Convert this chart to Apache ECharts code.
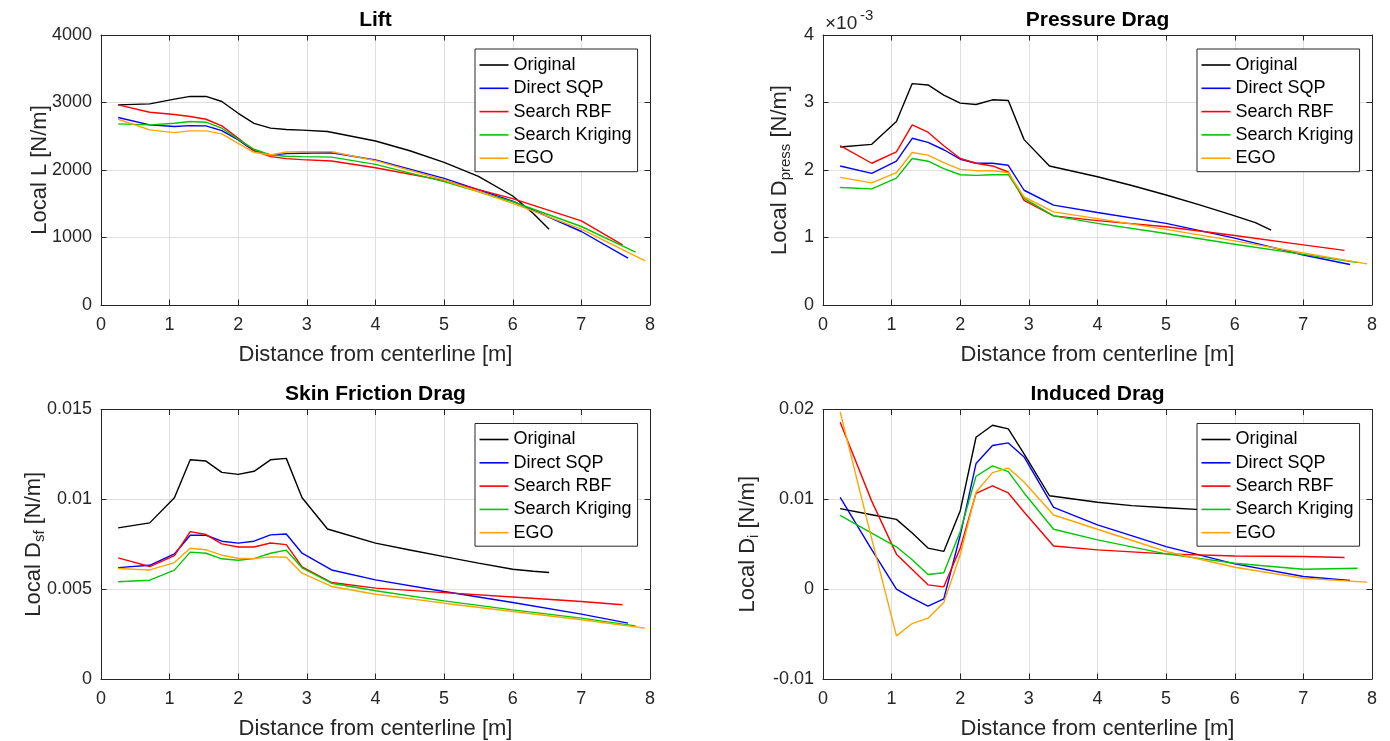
<!DOCTYPE html>
<html><head><meta charset="utf-8">
<script src="https://cdn.jsdelivr.net/npm/echarts@6/dist/echarts.min.js"></script>
<style>html,body{margin:0;padding:0;background:#fff}#c{width:1390px;height:741px}</style>
</head><body><div id="c"></div>
<script>
// ---------- data ----------
const seriesNames = ['Original', 'Direct SQP', 'Search RBF', 'Search Kriging', 'EGO'];
const seriesColors = ['#000000', '#0000ff', '#ff0000', '#00c800', '#ffa500'];
const panelTitles = ['Lift', 'Pressure Drag', 'Skin Friction Drag', 'Induced Drag'];
const xTicks = [0, 1, 2, 3, 4, 5, 6, 7, 8];

const xInner = [0.25, 0.71, 1.07, 1.30, 1.53, 1.76, 2.00, 2.23, 2.47, 2.70, 2.93];
const xOriginal = xInner.concat([3.30, 4.0, 4.5, 5.0, 5.5, 6.0, 6.3, 6.53]);
const xSQP = xInner.concat([3.36, 4.0, 5.0, 6.0, 7.0, 7.68]);
const xRBF = xInner.concat([3.36, 4.0, 5.0, 6.0, 7.0, 7.60]);
const xKriging = xInner.concat([3.36, 4.0, 5.0, 6.0, 7.0, 7.79]);
const xEGO = xInner.concat([3.36, 4.0, 5.0, 6.0, 7.0, 7.93]);

// Lift [N/m]
const liftOriginal = [2965, 2980, 3050, 3090, 3090, 3015, 2840, 2690, 2620, 2600, 2590, 2570, 2430, 2285, 2113, 1905, 1615, 1355, 1123];
const liftSQP = [2777, 2668, 2644, 2658, 2653, 2584, 2445, 2282, 2223, 2243, 2248, 2256, 2148, 1877, 1540, 1089, 695];
const liftRBF = [2965, 2856, 2822, 2792, 2752, 2653, 2470, 2287, 2198, 2168, 2153, 2133, 2034, 1842, 1575, 1246, 892];
const liftKriging = [2683, 2668, 2693, 2718, 2708, 2619, 2455, 2307, 2223, 2203, 2198, 2190, 2084, 1828, 1530, 1163, 783];
const liftEGO = [2752, 2594, 2554, 2579, 2579, 2535, 2396, 2262, 2223, 2267, 2272, 2271, 2138, 1852, 1505, 1123, 655];

// Pressure drag [N/m]
const pressOriginal = [0.00234, 0.00238, 0.00272, 0.00328, 0.00326, 0.00311, 0.00299, 0.00297, 0.00304, 0.00303, 0.00245, 0.00206, 0.00190, 0.00177, 0.00163, 0.00148, 0.00132, 0.00122, 0.00111];
const pressSQP = [0.00206, 0.00195, 0.00213, 0.00247, 0.00241, 0.00230, 0.00216, 0.00210, 0.00210, 0.00207, 0.00170, 0.00148, 0.00137, 0.00121, 0.00099, 0.00074, 0.00060];
const pressRBF = [0.00236, 0.00210, 0.00227, 0.00267, 0.00256, 0.00236, 0.00217, 0.00210, 0.00206, 0.00197, 0.00155, 0.00132, 0.00125, 0.00116, 0.00103, 0.00089, 0.00081];
const pressKriging = [0.00174, 0.00172, 0.00188, 0.00217, 0.00213, 0.00202, 0.00193, 0.00192, 0.00193, 0.00193, 0.00158, 0.00132, 0.00121, 0.00106, 0.00090, 0.00075, 0.00063];
const pressEGO = [0.00189, 0.00181, 0.00196, 0.00226, 0.00222, 0.00211, 0.00201, 0.00199, 0.00199, 0.00196, 0.00160, 0.00138, 0.00128, 0.00112, 0.00095, 0.00077, 0.00061];

// Skin friction drag [N/m]
const sfOriginal = [0.00841, 0.00869, 0.01009, 0.01220, 0.01213, 0.01150, 0.01139, 0.01156, 0.01220, 0.01228, 0.01009, 0.00835, 0.00756, 0.00718, 0.00681, 0.00645, 0.00611, 0.00600, 0.00593];
const sfSQP = [0.00620, 0.00633, 0.00696, 0.00800, 0.00800, 0.00767, 0.00756, 0.00767, 0.00802, 0.00807, 0.00700, 0.00607, 0.00552, 0.00487, 0.00426, 0.00361, 0.00311];
const sfRBF = [0.00674, 0.00626, 0.00687, 0.00820, 0.00804, 0.00752, 0.00735, 0.00735, 0.00757, 0.00748, 0.00624, 0.00537, 0.00506, 0.00481, 0.00456, 0.00431, 0.00413];
const sfKriging = [0.00541, 0.00550, 0.00606, 0.00706, 0.00700, 0.00669, 0.00661, 0.00670, 0.00700, 0.00717, 0.00619, 0.00533, 0.00491, 0.00435, 0.00385, 0.00339, 0.00296];
const sfEGO = [0.00615, 0.00607, 0.00648, 0.00728, 0.00719, 0.00689, 0.00672, 0.00670, 0.00680, 0.00678, 0.00589, 0.00515, 0.00472, 0.00422, 0.00376, 0.00330, 0.00283];

// Induced drag [N/m]
const diOriginal = [0.00896, 0.00829, 0.00777, 0.00625, 0.00457, 0.00420, 0.00874, 0.01691, 0.01825, 0.01784, 0.01506, 0.01040, 0.00967, 0.00930, 0.00907, 0.00885, 0.00870, 0.00860, 0.00850];
const diSQP = [0.01022, 0.00440, 0.00000, -0.00100, -0.00190, -0.00108, 0.00600, 0.01398, 0.01599, 0.01628, 0.01472, 0.00911, 0.00715, 0.00474, 0.00281, 0.00141, 0.00096];
const diRBF = [0.01859, 0.00980, 0.00390, 0.00219, 0.00048, 0.00026, 0.00457, 0.01067, 0.01149, 0.01071, 0.00859, 0.00481, 0.00437, 0.00393, 0.00370, 0.00363, 0.00352];
const diKriging = [0.00822, 0.00625, 0.00472, 0.00327, 0.00164, 0.00182, 0.00643, 0.01257, 0.01372, 0.01309, 0.01071, 0.00667, 0.00548, 0.00393, 0.00289, 0.00222, 0.00233];
const diEGO = [0.01974, 0.00560, -0.00520, -0.00383, -0.00323, -0.00149, 0.00383, 0.01082, 0.01297, 0.01349, 0.01193, 0.00826, 0.00667, 0.00419, 0.00244, 0.00122, 0.00078];

// y axis ranges / ticks
const yLift = { min: 0, max: 4000, interval: 1000 };
const yPress = { min: 0, max: 0.004, interval: 0.001 };
const ySf = { min: 0, max: 0.015, interval: 0.005 };
const yDi = { min: -0.01, max: 0.02, interval: 0.01 };

// ---------- chart ----------
const FONT = '"Liberation Sans", Arial, Helvetica, sans-serif';
const TXT = '#262626';
const xs = [xOriginal, xSQP, xRBF, xKriging, xEGO];
const panels = [
  { ys: [liftOriginal, liftSQP, liftRBF, liftKriging, liftEGO], y: yLift,
    name: '{n|Local L [N/m]}', fmt: v => String(Math.round(v)), gap: 48 },
  { ys: [pressOriginal, pressSQP, pressRBF, pressKriging, pressEGO], y: yPress,
    name: '{n|Local D}{s|press}{n| [N/m]}', fmt: v => String(Math.round(v * 1000)), gap: 30 },
  { ys: [sfOriginal, sfSQP, sfRBF, sfKriging, sfEGO], y: ySf,
    name: '{n|Local D}{s|sf}{n| [N/m]}', fmt: v => String(+v.toFixed(6)), gap: 54 },
  { ys: [diOriginal, diSQP, diRBF, diKriging, diEGO], y: yDi,
    name: '{n|Local D}{s|i}{n| [N/m]}', fmt: v => String(+v.toFixed(6)), gap: 62 }
];
const gridPos = [
  { left: 101, top: 35, width: 549, height: 270 },
  { left: 823, top: 35, width: 549, height: 270 },
  { left: 101, top: 409.5, width: 549, height: 270 },
  { left: 823, top: 409.5, width: 549, height: 270 }
];

const grid = [], xAxis = [], yAxis = [], series = [], legend = [], graphic = [];
const axisLine = { show: true, onZero: false, lineStyle: { color: TXT, width: 1 } };
const axisTick = { show: true, inside: true, length: 5.5, lineStyle: { color: TXT, width: 1 } };
const splitLine = { show: true, lineStyle: { color: '#dfdfdf', width: 1 } };

panels.forEach((p, i) => {
  const g = gridPos[i];
  grid.push(Object.assign({ containLabel: false }, g));
  xAxis.push({
    type: 'value', gridIndex: i, min: xTicks[0], max: xTicks[xTicks.length - 1], interval: 1,
    axisLine, axisTick, splitLine,
    axisLabel: { color: TXT, fontSize: 18, fontFamily: FONT, margin: 11 },
    name: 'Distance from centerline [m]', nameLocation: 'middle', nameGap: 39, nameMoveOverlap: false,
    nameTextStyle: { color: TXT, fontSize: 22, fontFamily: FONT }
  });
  xAxis.push({
    type: 'value', gridIndex: i, position: 'top', min: xTicks[0], max: xTicks[xTicks.length - 1], interval: 1,
    axisLine, axisTick, splitLine: { show: false }, axisLabel: { show: false }
  });
  yAxis.push({
    type: 'value', gridIndex: i, min: p.y.min, max: p.y.max, interval: p.y.interval,
    axisLine, axisTick, splitLine,
    axisLabel: { color: TXT, fontSize: 18, fontFamily: FONT, margin: 9, formatter: p.fmt },
    name: p.name, nameLocation: 'middle', nameGap: p.gap, nameMoveOverlap: false,
    nameTextStyle: {
      color: TXT, fontSize: 22, fontFamily: FONT,
      rich: {
        n: { fontSize: 22, fontFamily: FONT, color: TXT, lineHeight: 26, verticalAlign: 'middle' },
        s: { fontSize: 15, fontFamily: FONT, color: TXT, lineHeight: 26, verticalAlign: 'bottom' }
      }
    }
  });
  yAxis.push({
    type: 'value', gridIndex: i, position: 'right', min: p.y.min, max: p.y.max, interval: p.y.interval,
    axisLine, axisTick, splitLine: { show: false }, axisLabel: { show: false }
  });
  seriesNames.forEach((nm, k) => {
    series.push({
      type: 'line', name: nm, xAxisIndex: 2 * i, yAxisIndex: 2 * i,
      data: xs[k].map((x, j) => [x, p.ys[k][j]]),
      color: seriesColors[k], symbol: 'none', showSymbol: false, smooth: false,
      lineStyle: { color: seriesColors[k], width: 1.4 }, z: 2 + k, silent: true
    });
  });
  legend.push({
    orient: 'vertical', left: g.left + 374, top: g.top + 14, z: 20,
    data: seriesNames, icon: 'rect', itemWidth: 29, itemHeight: 1.6, itemGap: 0.3,
    backgroundColor: '#ffffff', borderColor: TXT, borderWidth: 1, borderRadius: 0,
    padding: [4.5, 6, 2, 4.5], selectedMode: false,
    textStyle: { fontSize: 18, fontFamily: FONT, color: '#000', lineHeight: 23 }
  });
  graphic.push({
    type: 'text', x: g.left + g.width / 2, y: g.top - 15, z: 30,
    style: { text: panelTitles[i], fontSize: 21, fontWeight: 'bold', fontFamily: FONT, fill: '#000',
      textAlign: 'center', textVerticalAlign: 'middle' }
  });
});
graphic.push({
  type: 'text', x: 825, y: 14, z: 30,
  style: { text: '×10', fontSize: 19, fontFamily: FONT, fill: TXT, textAlign: 'left', textVerticalAlign: 'top' }
});
graphic.push({
  type: 'text', x: 860, y: 8, z: 30,
  style: { text: '-3', fontSize: 15, fontFamily: FONT, fill: TXT, textAlign: 'left', textVerticalAlign: 'top' }
});

const chart = echarts.init(document.getElementById('c'), null, { renderer: 'canvas' });
chart.setOption({ animation: false, backgroundColor: '#ffffff', grid, xAxis, yAxis, series, legend, graphic });
</script></body></html>
